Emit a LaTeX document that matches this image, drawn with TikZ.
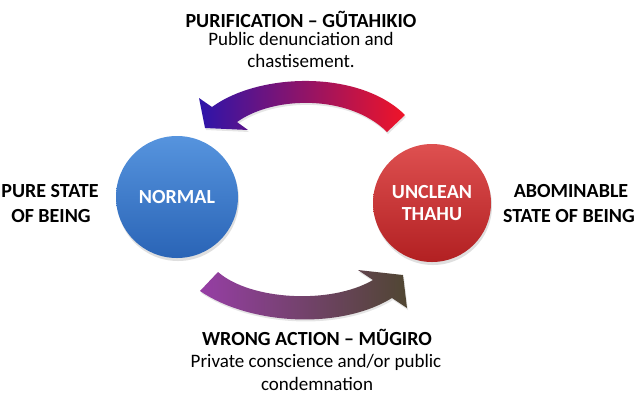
\documentclass[tikz,border=0pt]{standalone}
\usepackage{fontspec}
\setmainfont{Carlito}
\usetikzlibrary{shadows}
\definecolor{bluetop}{RGB}{86,148,222}
\definecolor{bluebot}{RGB}{42,100,182}
\definecolor{redtop}{RGB}{222,80,80}
\definecolor{redbot}{RGB}{178,32,34}
\definecolor{arrA}{RGB}{45,20,170}
\definecolor{arrB}{RGB}{160,20,190}
\definecolor{arrC}{RGB}{240,20,40}
\definecolor{arrD}{RGB}{150,62,165}
\definecolor{arrE}{RGB}{125,72,115}
\definecolor{arrF}{RGB}{80,70,50}
\definecolor{txt}{RGB}{0,0,0}
\tikzset{
  head/.style={font=\fontsize{20}{22}\selectfont\bfseries, text=txt, anchor=base, inner sep=0pt},
  desc/.style={font=\fontsize{19}{21}\selectfont, text=txt, anchor=base, inner sep=0pt},
  inner/.style={font=\fontsize{20}{22}\selectfont\bfseries, text=white, align=center, inner sep=0pt},
  ball/.style={circle, minimum size=#1, inner sep=0pt},
}
\begin{document}
\begin{tikzpicture}[x=1pt,y=-1pt]
\useasboundingbox (0,0) rectangle (640,400);
\fill[white] (0,0) rectangle (640,400);

% circles
\node[ball=122pt, top color=bluetop, bottom color=bluebot,
      drop shadow={opacity=0.25,shadow xshift=1pt,shadow yshift=-3pt}] (normal) at (177,197) {};
\node[ball=118pt, top color=redtop, bottom color=redbot,
      drop shadow={opacity=0.25,shadow xshift=1pt,shadow yshift=-3pt}] (unclean) at (432,203) {};
\node[inner] (normaltxt) at (normal.center) {NORMAL};
\node[inner] (uncleantxt) at (unclean.center) {UNCLEAN\\[0pt]THAHU};

% top arrow (purification)
\shade[left color=arrA, middle color=arrB, right color=arrC,
       drop shadow={opacity=0.2,shadow xshift=1pt,shadow yshift=-2pt}]
  (405,115) .. controls (360,70) and (260,72) .. (212,107)
  -- (199,98) -- (205,128) -- (248,130) -- (237,122)
  .. controls (275,95) and (350,95) .. (387,132) -- cycle;

% bottom arrow (wrong action)
\shade[left color=arrD, middle color=arrE, right color=arrF,
       drop shadow={opacity=0.2,shadow xshift=1pt,shadow yshift=-2pt}]
  (218,272) .. controls (250,300) and (330,305) .. (373,280)
  -- (358,270) -- (403,275) -- (407,308) -- (392,298)
  .. controls (340,330) and (250,325) .. (200,291) -- cycle;

% top texts
\node[head] (t1) at (301,27) {PURIFICATION – GŨTAHIKIO};
\node[desc] (t2) at (301,45) {Public denunciation and};
\node[desc] (t3) at (301,67) {chastisement.};

% bottom texts
\node[head] (b1) at (317,345) {WRONG ACTION – MŨGIRO};
\node[desc] (b2) at (316,367) {Private conscience and/or public};
\node[desc] (b3) at (317,390) {condemnation};

% side texts
\node[head] (l1) at (50,197) {PURE STATE};
\node[head] (l2) at (51,222) {OF BEING};
\node[head] (r1) at (571,197) {ABOMINABLE};
\node[head] (r2) at (569,222) {STATE OF BEING};
\end{tikzpicture}
\end{document}
